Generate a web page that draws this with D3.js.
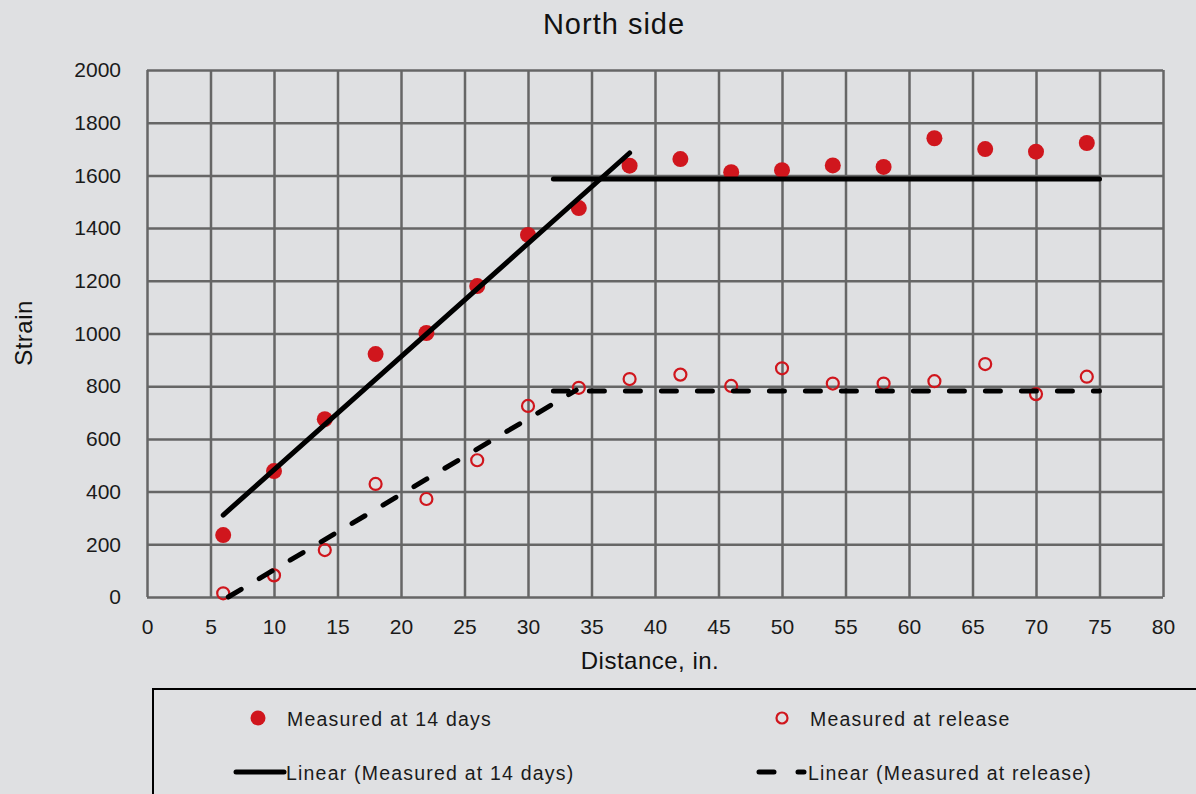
<!DOCTYPE html>
<html>
<head>
<meta charset="utf-8">
<title>North side</title>
<script src="https://cdnjs.cloudflare.com/ajax/libs/d3/7.8.5/d3.min.js"></script>
<style>
  body { margin: 0; background: #dfe0e2; }
  svg { display: block; font-family: "Liberation Sans", Arial, sans-serif; }
  .grid .domain { display: none; }
  .grid .tick line { stroke: #666; stroke-width: 2.5px; }
  .grid .tick text { font-size: 21px; fill: #1a1a1a; }
  .lgtext { font-size: 19.5px; fill: #1a1a1a; letter-spacing: 1.2px; }
</style>
</head>
<body>
<script>
  // distance, in.
  var distance = [6, 10, 14, 18, 22, 26, 30, 34, 38, 42, 46, 50, 54, 58, 62, 66, 70, 74];
  var at14days = [235, 478, 675, 922, 1002, 1180, 1374, 1476, 1637, 1662, 1612, 1620, 1638, 1632, 1741, 1700, 1690, 1723];
  var atRelease = [14, 82, 178, 429, 372, 519, 725, 794, 827, 844, 801, 868, 810, 810, 819, 884, 770, 836];

  // trend lines, [x, y] end points of each piece
  var trend14 = [[[6, 311], [38, 1685]], [[32, 1586], [75, 1586]]];
  var trendRel = [[[6.4, 0], [33.8, 785]], [[32, 782], [75, 782]]];

  var xTicks = d3.range(0, 81, 5);
  var yTicks = d3.range(0, 2001, 200);

  var W = 1196, H = 794;
  var m = { left: 147, top: 70, right: 1163, bottom: 597 };

  var svg = d3.select('body').append('svg').attr('width', W).attr('height', H);

  var x = d3.scaleLinear().domain([0, 80]).range([m.left, m.right]);
  var y = d3.scaleLinear().domain([0, 2000]).range([m.bottom, m.top]);

  svg.append('text')
    .attr('x', 614).attr('y', 34)
    .attr('text-anchor', 'middle')
    .attr('font-size', 29).attr('letter-spacing', 1).attr('fill', '#111')
    .text('North side');

  // grid + axes
  svg.append('g').classed('grid', true)
    .attr('transform', `translate(0,${m.bottom})`)
    .call(d3.axisBottom(x).tickValues(xTicks).tickSize(-(m.bottom - m.top)).tickPadding(0))
    .selectAll('text').attr('dy', null).attr('y', 37);

  svg.append('g').classed('grid', true)
    .attr('transform', `translate(${m.left},0)`)
    .call(d3.axisLeft(y).tickValues(yTicks).tickFormat(d3.format('d')).tickSize(-(m.right - m.left)).tickPadding(26));

  svg.append('text')
    .attr('x', 650).attr('y', 669)
    .attr('text-anchor', 'middle')
    .attr('font-size', 24).attr('letter-spacing', 0.5).attr('fill', '#111')
    .text('Distance, in.');

  svg.append('text')
    .attr('transform', 'translate(32,333) rotate(-90)')
    .attr('text-anchor', 'middle')
    .attr('font-size', 24).attr('letter-spacing', 0.5).attr('fill', '#111')
    .text('Strain');

  // points
  svg.append('g').selectAll('circle')
    .data(distance)
    .join('circle')
    .attr('cx', d => x(d))
    .attr('cy', (d, i) => y(at14days[i]))
    .attr('r', 8)
    .attr('fill', '#d0161d');

  svg.append('g').selectAll('circle')
    .data(distance)
    .join('circle')
    .attr('cx', d => x(d))
    .attr('cy', (d, i) => y(atRelease[i]))
    .attr('r', 6)
    .attr('fill', 'none')
    .attr('stroke', '#d0161d')
    .attr('stroke-width', 2.2);

  // trend lines
  var line = d3.line().x(d => x(d[0])).y(d => y(d[1]));

  svg.append('g').selectAll('path')
    .data(trend14)
    .join('path')
    .attr('d', line)
    .attr('fill', 'none')
    .attr('stroke', '#000')
    .attr('stroke-width', 5)
    .attr('stroke-linecap', 'round');

  svg.append('g').selectAll('path')
    .data(trendRel)
    .join('path')
    .attr('d', line)
    .attr('fill', 'none')
    .attr('stroke', '#000')
    .attr('stroke-width', 5)
    .attr('stroke-linecap', 'round')
    .attr('stroke-dasharray', '15 21');

  // legend
  var lg = svg.append('g');
  lg.append('rect')
    .attr('x', 153).attr('y', 689)
    .attr('width', 1100).attr('height', 200)
    .attr('fill', 'none').attr('stroke', '#000').attr('stroke-width', 2);

  lg.append('circle').attr('cx', 258).attr('cy', 718).attr('r', 7.5).attr('fill', '#d0161d');
  lg.append('text').classed('lgtext', true).attr('x', 287).attr('y', 726)
    .text('Measured at 14 days');

  lg.append('circle').attr('cx', 782).attr('cy', 718).attr('r', 5.5)
    .attr('fill', 'none').attr('stroke', '#d0161d').attr('stroke-width', 2.2);
  lg.append('text').classed('lgtext', true).attr('x', 810).attr('y', 726)
    .text('Measured at release');

  lg.append('line').attr('x1', 236).attr('x2', 284).attr('y1', 772).attr('y2', 772)
    .attr('stroke', '#000').attr('stroke-width', 5).attr('stroke-linecap', 'round');
  lg.append('text').classed('lgtext', true).attr('x', 286).attr('y', 780)
    .text('Linear (Measured at 14 days)');

  lg.append('line').attr('x1', 759).attr('x2', 805).attr('y1', 772).attr('y2', 772)
    .attr('stroke', '#000').attr('stroke-width', 5).attr('stroke-linecap', 'round')
    .attr('stroke-dasharray', '15 24 6 20');
  lg.append('text').classed('lgtext', true).attr('x', 808).attr('y', 780)
    .text('Linear (Measured at release)');
</script>
</body>
</html>
